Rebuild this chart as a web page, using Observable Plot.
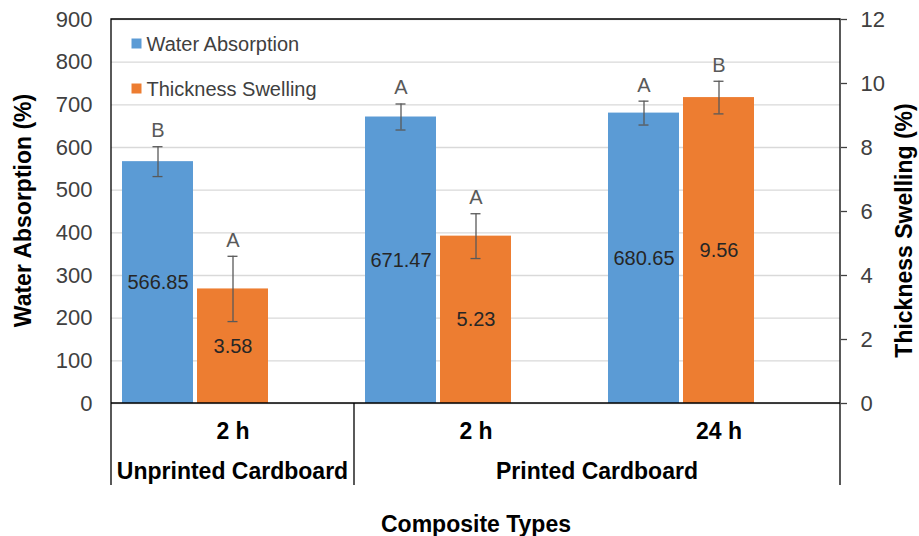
<!DOCTYPE html>
<html>
<head>
<meta charset="utf-8">
<script src="https://cdn.jsdelivr.net/npm/d3@7"></script>
<script src="https://cdn.jsdelivr.net/npm/@observablehq/plot@0.6"></script>
<style>
  html, body { margin: 0; padding: 0; background: #fff; }
  #chart { width: 919px; height: 536px; }
</style>
</head>
<body>
<div id="chart"></div>
<script>
// Composite groups along the bottom axis
const materials = ["Unprinted Cardboard", "Printed Cardboard", "Printed Cardboard"];
const durations = ["2 h", "2 h", "24 h"];

// Water absorption (%) — left axis
const waterAbsorption = [566.85, 671.47, 680.65];
const waterAbsorptionErr = [35, 30.5, 28];
const waterAbsorptionLetters = ["B", "A", "A"];

// Thickness swelling (%) — right axis
const thicknessSwelling = [3.58, 5.23, 9.56];
const thicknessSwellingErr = [1.02, 0.70, 0.51];
const thicknessSwellingLetters = ["A", "A", "B"];

const seriesNames = ["Water Absorption", "Thickness Swelling"];
const seriesColors = ["#5B9BD5", "#ED7D31"];

const leftTicks = [0, 100, 200, 300, 400, 500, 600, 700, 800, 900];
const rightTicks = [0, 2, 4, 6, 8, 10, 12];

// Right axis 0–12 shares the frame with left axis 0–900
const rightToLeft = 900 / 12;

const composites = materials.map((m, i) => `${m} | ${durations[i]}`);

const rows = composites.flatMap((c, i) => [
  {composite: c, series: seriesNames[0], value: waterAbsorption[i],
   err: waterAbsorptionErr[i], letter: waterAbsorptionLetters[i],
   label: waterAbsorption[i].toFixed(2)},
  {composite: c, series: seriesNames[1], value: thicknessSwelling[i] * rightToLeft,
   err: thicknessSwellingErr[i] * rightToLeft, letter: thicknessSwellingLetters[i],
   label: thicknessSwelling[i].toFixed(2)}
]);

const font = "'Liberation Sans', Arial, Helvetica, sans-serif";

// Outer frame, category divider lines and the material labels under the hours
function drawCategoryFrame(index, scales, values, dimensions) {
  const {width, height, marginTop, marginRight, marginBottom, marginLeft} = dimensions;
  const left = marginLeft, right = width - marginRight, top = marginTop;
  const base = height - marginBottom, bottom = base + 82;
  const band = d3.scaleBand(composites, [left, right]);
  const g = d3.create("svg:g");
  const lines = g.append("g").attr("fill", "none").attr("stroke", "#000").attr("stroke-width", 1.3);
  lines.append("path").attr("d", `M${left},${bottom}V${top}H${right}V${bottom}`);
  lines.append("path").attr("d", `M${left},${base}H${right}`);
  // runs of consecutive composites made of the same material
  const runs = [];
  composites.forEach((c, i) => {
    const last = runs[runs.length - 1];
    if (last && last.material === materials[i]) last.end = c;
    else runs.push({material: materials[i], start: c, end: c});
  });
  runs.forEach((r) => {
    const x0 = band(r.start), x1 = band(r.end) + band.bandwidth();
    if (x0 > left + 1) lines.append("path").attr("d", `M${x0},${base}V${bottom}`);
    g.append("text")
      .attr("x", (x0 + x1) / 2).attr("y", base + 76)
      .attr("text-anchor", "middle")
      .attr("font-family", font).attr("font-size", 23).attr("font-weight", "bold")
      .attr("fill", "#000")
      .text(r.material);
  });
  return g.node();
}

const legendMarks = seriesNames.flatMap((name, i) => [
  Plot.dot([name], {facet: "super", frameAnchor: "top-left", dx: 25, dy: 24 + 45 * i,
    symbol: "square", r: 5.64, fill: seriesColors[i], stroke: "none"}),
  Plot.text([name], {facet: "super", frameAnchor: "top-left", dx: 35, dy: 25 + 45 * i,
    text: d => d, textAnchor: "start", lineAnchor: "middle", fontSize: 20, fill: "#404040"})
]);

const titleStyle = {facet: "super", text: d => d, textAnchor: "middle", lineAnchor: "middle",
  fontSize: 23, fontWeight: "bold", fill: "#000"};

const chart = Plot.plot({
  width: 919,
  height: 536,
  marginTop: 19,
  marginRight: 78,
  marginBottom: 133,
  marginLeft: 110,
  style: {fontFamily: font, color: "#404040", background: "#fff", overflow: "visible"},
  fx: {domain: composites, padding: 0, label: null},
  x: {domain: seriesNames, paddingInner: 0.05, paddingOuter: 0.63, align: 0.115, axis: null},
  y: {domain: [0, 900], axis: null},
  color: {domain: seriesNames, range: seriesColors},
  marks: [
    Plot.gridY(leftTicks, {stroke: "#d9d9d9", strokeOpacity: 1, strokeWidth: 1.3}),
    Plot.barY(rows, {fx: "composite", x: "series", y: "value", fill: "series"}),
    // error bars
    Plot.ruleX(rows, {fx: "composite", x: "series", y1: d => d.value - d.err, y2: d => d.value + d.err,
      stroke: "#595959", strokeWidth: 1.3}),
    Plot.tickY(rows, {fx: "composite", x: "series", y: d => d.value + d.err,
      insetLeft: 30.5, insetRight: 30.5, stroke: "#595959", strokeWidth: 1.3}),
    Plot.tickY(rows, {fx: "composite", x: "series", y: d => d.value - d.err,
      insetLeft: 30.5, insetRight: 30.5, stroke: "#595959", strokeWidth: 1.3}),
    // value labels inside bars
    Plot.text(rows, {fx: "composite", x: "series", y: d => d.value / 2, text: "label",
      fontSize: 20, fill: "#262626"}),
    // significance letters above error bars
    Plot.text(rows, {fx: "composite", x: "series", y: d => d.value + d.err, text: "letter",
      dy: -16, fontSize: 20, fill: "#595959"}),
    // axes
    Plot.axisY(leftTicks, {anchor: "left", tickSize: 0, tickPadding: 19, fontSize: 22,
      label: null}),
    Plot.axisY(rightTicks.map(v => v * rightToLeft), {anchor: "right", tickSize: 6, tickPadding: 14,
      tickFormat: v => String(v / rightToLeft), fontSize: 22, label: null, strokeWidth: 1.3}),
    Plot.axisFx({anchor: "bottom", tickSize: 0, tickPadding: 19,
      tickFormat: c => durations[composites.indexOf(c)],
      fontSize: 23, fontWeight: "bold", fill: "#000", label: null}),
    // axis titles
    Plot.text(["Water Absorption (%)"], {...titleStyle, frameAnchor: "left", dx: -87.5, dy: -1, rotate: -90}),
    Plot.text(["Thickness Swelling (%)"], {...titleStyle, frameAnchor: "right", dx: 64, dy: 19, rotate: -90}),
    Plot.text(["Composite Types"], {...titleStyle, frameAnchor: "bottom", dy: 121}),
    ...legendMarks,
    Plot.frame({facet: "super", render: drawCategoryFrame})
  ]
});

document.getElementById("chart").append(chart);
</script>
</body>
</html>
